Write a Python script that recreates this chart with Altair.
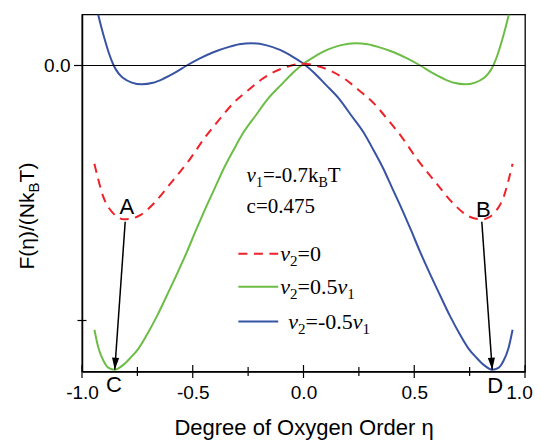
import altair as alt
import pandas as pd

# ---------------- data ----------------
eta_blue = [-0.927, -0.912, -0.896, -0.878, -0.859, -0.836, -0.814, -0.775, -0.730, -0.680,
            -0.633, -0.580, -0.527, -0.470, -0.407, -0.340, -0.290, -0.234, -0.170, -0.106,
            -0.050, 0.000, 0.050, 0.100, 0.160, 0.215, 0.270, 0.315, 0.360, 0.400,
            0.443, 0.485, 0.526, 0.570, 0.616, 0.660, 0.707, 0.745, 0.782, 0.815,
            0.852, 0.880, 0.902, 0.925, 0.944]
F_blue = [0.200, 0.148, 0.098, 0.047, 0.004, -0.030, -0.049, -0.067, -0.074, -0.068,
          -0.052, -0.028, 0.000, 0.027, 0.052, 0.072, 0.083, 0.087, 0.080, 0.061,
          0.035, 0.007, -0.030, -0.075, -0.130, -0.195, -0.261, -0.330, -0.404, -0.480,
          -0.561, -0.645, -0.730, -0.815, -0.900, -0.980, -1.056, -1.110, -1.147, -1.175,
          -1.193, -1.186, -1.160, -1.110, -1.036]

eta_green = [-0.944, -0.925, -0.902, -0.880, -0.852, -0.815, -0.782, -0.745, -0.707, -0.660,
             -0.616, -0.570, -0.526, -0.485, -0.443, -0.400, -0.360, -0.315, -0.270, -0.215,
             -0.160, -0.100, -0.050, 0.000, 0.050, 0.106, 0.170, 0.234, 0.290, 0.340,
             0.407, 0.470, 0.527, 0.580, 0.633, 0.680, 0.730, 0.775, 0.814, 0.836,
             0.859, 0.878, 0.896, 0.912, 0.927]
F_green = [-1.036, -1.110, -1.160, -1.186, -1.193, -1.175, -1.147, -1.110, -1.056, -0.980,
           -0.900, -0.815, -0.730, -0.645, -0.561, -0.480, -0.404, -0.330, -0.261, -0.195,
           -0.130, -0.075, -0.030, 0.007, 0.035, 0.061, 0.080, 0.087, 0.083, 0.072,
           0.052, 0.027, 0.000, -0.028, -0.052, -0.068, -0.074, -0.067, -0.049, -0.030,
           0.004, 0.047, 0.098, 0.148, 0.200]

eta_red = [-0.944, -0.925, -0.905, -0.885, -0.865, -0.840, -0.810, -0.780, -0.737, -0.676,
           -0.601, -0.511, -0.443, -0.383, -0.315, -0.250, -0.190, -0.130, -0.070, 0.000,
           0.070, 0.130, 0.190, 0.250, 0.315, 0.383, 0.443, 0.511, 0.601, 0.676,
           0.737, 0.780, 0.810, 0.840, 0.865, 0.885, 0.905, 0.925, 0.944]
F_red = [-0.385, -0.452, -0.512, -0.550, -0.574, -0.594, -0.603, -0.601, -0.587, -0.541,
         -0.463, -0.365, -0.280, -0.215, -0.146, -0.097, -0.055, -0.024, -0.004, 0.007,
         -0.004, -0.024, -0.055, -0.097, -0.146, -0.215, -0.280, -0.365, -0.463, -0.541,
         -0.587, -0.601, -0.603, -0.594, -0.574, -0.550, -0.512, -0.452, -0.385]

x_major_ticks = [-1.0, -0.5, 0.0, 0.5, 1.0]
x_minor_ticks = [-0.75, -0.25, 0.25, 0.75]
y_labeled_ticks = [0.0]
y_unlabeled_ticks = [-1.0]

arrow_x_start = [-0.805, 0.805]
arrow_y_start = [-0.613, -0.613]
arrow_x_end = [-0.852, 0.852]
arrow_y_end = [-1.193, -1.193]
arrow_angle = [4, 356]

point_names = ["A", "B", "C", "D"]
point_x = [-0.798, 0.812, -0.856, 0.865]
point_y = [-0.556, -0.568, -1.253, -1.258]

legend_x = [-0.294, -0.114]
legend_y = [-0.738, -0.868, -1.004]

RED, GREEN, BLUE = "#ee2229", "#6cbd45", "#3853a4"

# ---------------- layout ----------------
W, H = 443, 357
xs = alt.Scale(domain=[-1.0, 1.0], nice=False, zero=False)
ys = alt.Scale(domain=[-1.2, 0.2], nice=False, zero=False)

SERIF = "Liberation Serif"
SANS = "Liberation Sans"

TIMES_UP = {'v': 500, 'c': 444, '=': 564, '-': 333, '.': 250, 'k': 500, 'B': 667, 'T': 611, ' ': 250}
TIMES_IT = {'v': 444, '=': 675, '-': 333, '.': 250, ' ': 250}
ARIAL = {'F': 611, '(': 333, ')': 333, 'η': 560, '/': 278, 'N': 722, 'k': 500, 'B': 667, 'T': 611}

x_axis = alt.Axis(values=x_major_ticks,
                  labelExpr="replace(format(datum.value, '.1f'), '\u2212', '-')",
                  labelOffset={"condition": {"test": "datum.value == 1", "value": -6}, "value": 0},
                  ticks=False, tickSize=0, labelPadding=12, labelFlush=False,
                  labelFont=SANS, labelFontSize=19, labelColor='black',
                  domainColor='black', domainWidth=1.5, grid=False,
                  title="Degree of Oxygen Order η", titleFont=SANS, titleFontSize=22,
                  titleFontWeight='normal', titleColor='black',
                  titleBaseline='alphabetic', titleY=63)
y_axis = alt.Axis(values=y_labeled_ticks, format='.1f', ticks=False, tickSize=0,
                  labelPadding=12, labelFlush=False, labelFont=SANS, labelFontSize=19,
                  labelColor='black', domainColor='black', domainWidth=1.5, grid=False,
                  title="")


def X(field='x'):
    return alt.X(f'{field}:Q', scale=xs, axis=x_axis)


def Y(field='y'):
    return alt.Y(f'{field}:Q', scale=ys, axis=y_axis)


def width(txt, table, fs):
    return sum(table.get(c, 500) for c in txt) * fs / 1000.0


def run(pieces, size, sub_size, font, up_table, it_table, dy_main, dy_sub,
        x=None, y=None, xv=None, yv=None, angle=None, start_dx=0.0):
    out = []
    dx = start_dx
    for txt, kind in pieces:
        if kind == 'sub':
            fs, dy, table, style = sub_size, dy_sub, up_table, 'normal'
        elif kind == 'it':
            fs, dy, table, style = size, dy_main, it_table, 'italic'
        else:
            fs, dy, table, style = size, dy_main, up_table, 'normal'
        kw = dict(text=txt, font=font, fontSize=fs, fontStyle=style, align='left',
                  baseline='alphabetic', dx=dx, dy=dy, color='black')
        if angle is not None:
            kw['angle'] = angle
        if xv is not None:
            enc = dict(x=alt.value(xv), y=alt.value(yv))
            df = pd.DataFrame({'k': [0]})
        else:
            enc = dict(x=X(), y=Y())
            df = pd.DataFrame({'x': [x], 'y': [y]})
        out.append(alt.Chart(df).mark_text(**kw).encode(**enc))
        dx += width(txt, table, fs)
    return out


layers = []

# curves
blue_df = pd.DataFrame({'x': eta_blue, 'y': F_blue})
green_df = pd.DataFrame({'x': eta_green, 'y': F_green})
red_df = pd.DataFrame({'x': eta_red, 'y': F_red})

layers.append(alt.Chart(blue_df).mark_line(color=BLUE, strokeWidth=2, interpolate='monotone', clip=True)
              .encode(x=X(), y=Y()))
layers.append(alt.Chart(green_df).mark_line(color=GREEN, strokeWidth=2, interpolate='monotone', clip=True)
              .encode(x=X(), y=Y()))
layers.append(alt.Chart(red_df).mark_line(color=RED, strokeWidth=2, strokeDash=[9, 6.5],
                                          interpolate='monotone', clip=True)
              .encode(x=X(), y=Y()))

# zero reference line
layers.append(alt.Chart(pd.DataFrame({'y': y_labeled_ticks})).mark_rule(
    color='black', strokeWidth=1).encode(y=Y()))

# ticks (crossing the axis lines)
layers.append(alt.Chart(pd.DataFrame({'x': x_major_ticks})).mark_rule(color='black', strokeWidth=1.2)
              .encode(x=X(), y=alt.value(H - 6.5), y2=alt.value(H + 6.5)))
layers.append(alt.Chart(pd.DataFrame({'x': x_minor_ticks})).mark_rule(color='black', strokeWidth=1.2)
              .encode(x=X(), y=alt.value(H - 4.5), y2=alt.value(H + 4.5)))
layers.append(alt.Chart(pd.DataFrame({'y': y_labeled_ticks})).mark_rule(color='black', strokeWidth=1.2)
              .encode(y=Y(), x=alt.value(-8), x2=alt.value(0)))
layers.append(alt.Chart(pd.DataFrame({'y': y_unlabeled_ticks})).mark_rule(color='black', strokeWidth=1.2)
              .encode(y=Y(), x=alt.value(-4.5), x2=alt.value(4.5)))

# arrows A->C, B->D
arrow_df = pd.DataFrame({'x': arrow_x_start, 'y': arrow_y_start, 'x2': arrow_x_end,
                         'y2': arrow_y_end, 'ang': arrow_angle})
layers.append(alt.Chart(arrow_df).mark_rule(color='black', strokeWidth=1.5)
              .encode(x=X(), y=Y(), x2='x2:Q', y2='y2:Q'))
head_df = pd.DataFrame({'x': arrow_x_end, 'y': arrow_y_end, 'ang': arrow_angle})
layers.append(alt.Chart(head_df).mark_point(shape="M0,0L-0.3,-1L0.3,-1Z", filled=True, size=576,
                                            color='black', opacity=1, strokeWidth=0)
              .encode(x=X(), y=Y(), angle=alt.Angle('ang:Q', scale=None)))

# point labels
lab_df = pd.DataFrame({'x': point_x, 'y': point_y, 't': point_names})
layers.append(alt.Chart(lab_df).mark_text(font=SANS, fontSize=22, color='black', align='center',
                                          baseline='middle')
              .encode(x=X(), y=Y(), text='t:N'))

# legend samples
leg_styles = [(RED, [9, 6.5]), (GREEN, None), (BLUE, None)]
for (col, dash), ly in zip(leg_styles, legend_y):
    kw = dict(color=col, strokeWidth=2)
    if dash:
        kw['strokeDash'] = dash
    layers.append(alt.Chart(pd.DataFrame({'x': legend_x, 'y': [ly, ly]})).mark_line(**kw)
                  .encode(x=X(), y=Y()))

leg_texts = [
    [("v", 'it'), ("2", 'sub'), ("=0", 'up')],
    [("v", 'it'), ("2", 'sub'), ("=0.5", 'up'), ("v", 'it'), ("1", 'sub')],
    [("v", 'it'), ("2", 'sub'), ("=-0.5", 'up'), ("v", 'it'), ("1", 'sub')],
]
leg_gap = [2, 2, 10]
for pieces, ly, gap in zip(leg_texts, legend_y, leg_gap):
    layers += run(pieces, 22, 15, SERIF, TIMES_UP, TIMES_IT, 7, 12,
                  x=legend_x[1], y=ly, start_dx=gap)

# parameter annotation
layers += run([("v", 'it'), ("1", 'sub'), ("=-0.7k", 'up'), ("B", 'sub'), ("T", 'up')],
              21, 14, SERIF, TIMES_UP, TIMES_IT, 0, 5, x=-0.257, y=-0.456)
layers += run([("c=0.475", 'up')], 21, 14, SERIF, TIMES_UP, TIMES_IT, 0, 5, x=-0.257, y=-0.578)

# rotated y title with subscript
layers += run([("F(η)/(Nk", 'up'), ("B", 'sub'), ("T)", 'up')], 21, 15, SANS, ARIAL, ARIAL, 0, 5,
              xv=-48, yv=255, angle=270)

chart = alt.layer(*layers).properties(
    width=W, height=H,
    autosize=alt.AutoSizeParams(type='none'),
    padding={'left': 74, 'top': 6.5, 'right': 8, 'bottom': 68.5},
).configure_view(stroke='black', strokeWidth=1.3)

chart.save("out.html", embed_options={"renderer": "svg", "actions": False})
